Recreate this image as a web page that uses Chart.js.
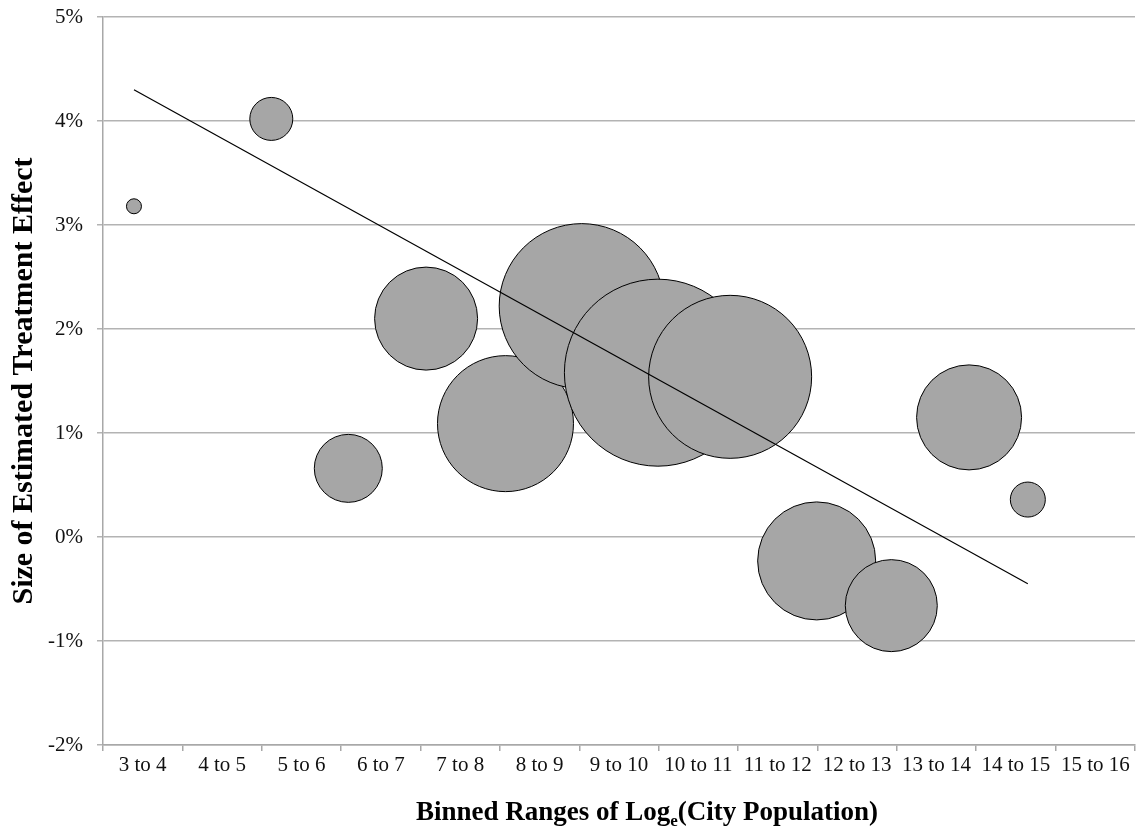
<!DOCTYPE html>
<html>
<head>
<meta charset="utf-8">
<script src="https://cdn.jsdelivr.net/npm/chart.js@4"></script>
<style>
  body { margin: 0; background: #fff; }
  #wrap { width: 1141px; height: 829px; }
</style>
</head>
<body>
<div id="wrap"><canvas id="bubbleChart"></canvas></div>
<script>
// bins on the x axis
const binLabels = ['3 to 4', '4 to 5', '5 to 6', '6 to 7', '7 to 8', '8 to 9', '9 to 10',
    '10 to 11', '11 to 12', '12 to 13', '13 to 14', '14 to 15', '15 to 16'];
const binCenters = [3.5, 4.5, 5.5, 6.5, 7.5, 8.5, 9.5, 10.5, 11.5, 12.5, 13.5, 14.5, 15.5];

// one bubble per populated bin
const logPop = [3.39, 5.12, 6.09, 7.07, 8.07, 9.03, 9.99, 10.90, 11.99, 12.93, 13.91, 14.65];
const effect = [3.18, 4.02, 0.66, 2.10, 1.09, 2.22, 1.58, 1.54, -0.23, -0.66, 1.15, 0.36];
const bubbleRadius = [7.5, 21.5, 34, 51.5, 68, 82.5, 93.5, 81.5, 59, 46, 52.5, 17.5];

// fitted trend line
const trendX = [3.39, 14.65];
const trendY = [4.30, -0.45];

const yTicks = [-2, -1, 0, 1, 2, 3, 4, 5];

const xTitle = ['Binned Ranges of Log', 'e', '(City Population)'];
const yTitle = 'Size of Estimated Treatment Effect';

const serif = '"Liberation Serif", "Times New Roman", serif';

const xTitlePlugin = {
    id: 'xTitle',
    afterDraw(chart) {
        const ctx = chart.ctx;
        const big = 'bold 27px ' + serif;
        const small = 'bold 17px ' + serif;
        const parts = [[xTitle[0], big, 0], [xTitle[1], small, 6], [xTitle[2], big, 0]];
        ctx.save();
        ctx.fillStyle = '#000';
        ctx.textAlign = 'left';
        ctx.textBaseline = 'alphabetic';
        let total = 0;
        parts.forEach(p => { ctx.font = p[1]; total += ctx.measureText(p[0]).width; });
        let x = (chart.chartArea.left + chart.chartArea.right) / 2 + 28 - total / 2;
        parts.forEach(p => {
            ctx.font = p[1];
            ctx.fillText(p[0], x, 820 + p[2]);
            x += ctx.measureText(p[0]).width;
        });
        ctx.restore();
    }
};

const ctx = document.getElementById('bubbleChart').getContext('2d');

const bubbleChart = new Chart(ctx, {
    type: 'bubble',
    data: {
        datasets: [{
            label: 'Treatment effect',
            data: logPop.map((x, i) => ({ x: x, y: effect[i], r: bubbleRadius[i] })),
            backgroundColor: '#a6a6a6',
            borderColor: '#000',
            borderWidth: 1,
            order: 2
        },
        {
            type: 'line',
            label: 'Trend',
            data: trendX.map((x, i) => ({ x: x, y: trendY[i] })),
            borderColor: '#000',
            borderWidth: 1.2,
            pointRadius: 0,
            fill: false,
            order: 1
        }]
    },
    options: {
        responsive: true,
        maintainAspectRatio: false,
        animation: false,
        layout: {
            autoPadding: false,
            padding: { top: 17, right: 6, bottom: 0, left: 0 }
        },
        plugins: {
            legend: { display: false },
            tooltip: { enabled: false }
        },
        scales: {
            x: {
                type: 'linear',
                min: 3,
                max: 16,
                afterBuildTicks: (s) => { s.ticks = binCenters.map(v => ({ value: v })); },
                afterFit: (s) => { s.height = 84; s.paddingLeft = 0; s.paddingRight = 0; },
                ticks: {
                    callback: (v, i) => binLabels[i],
                    autoSkip: false,
                    maxRotation: 0,
                    padding: 2,
                    color: '#111',
                    font: { family: serif, size: 21 }
                },
                grid: {
                    offset: true,
                    drawOnChartArea: false,
                    tickLength: 6,
                    color: '#a8a8a8',
                    lineWidth: 1.5
                },
                border: { color: '#a8a8a8', width: 1.5 }
            },
            y: {
                min: -2,
                max: 5,
                afterBuildTicks: (s) => { s.ticks = yTicks.map(v => ({ value: v })); },
                afterFit: (s) => { s.width = 103; s.paddingTop = 0; s.paddingBottom = 0; },
                ticks: {
                    callback: (v) => v + '%',
                    padding: 14,
                    color: '#111',
                    font: { family: serif, size: 21 }
                },
                grid: {
                    tickLength: 6,
                    color: '#b3b3b3',
                    lineWidth: 1.5
                },
                border: { color: '#a8a8a8', width: 1.5 },
                title: {
                    display: true,
                    text: yTitle,
                    color: '#000',
                    padding: { top: 6, bottom: 0 },
                    font: { family: serif, size: 30, weight: 'bold' }
                }
            }
        }
    },
    plugins: [xTitlePlugin]
});
</script>
</body>
</html>
